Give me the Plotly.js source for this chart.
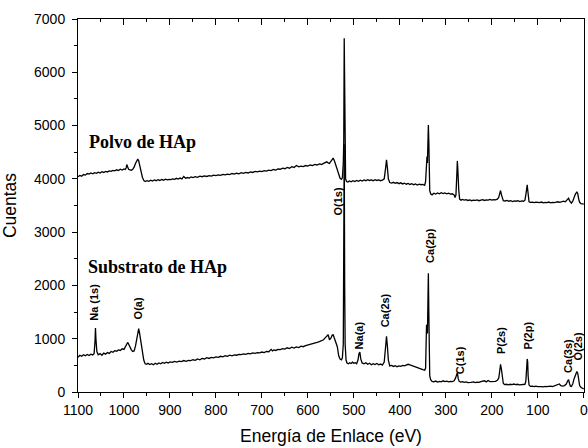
<!DOCTYPE html>
<html>
<head>
<meta charset="utf-8">
<script src="https://cdn.plot.ly/plotly-3.0.1.min.js"></script>
<style>html,body{margin:0;padding:0;background:#fff;}#chart{width:588px;height:448px;}</style>
</head>
<body>
<div id="chart"></div>
<script>
// Binding energy (eV) and counts, Substrato de HAp
const subEnergy = [1100,1096,1092,1088,1084,1080,1076,1072,1068,1065,1063,1062,1061,1059,1056,1052,1048,1044,1040,1036,1032,1028,1024,1020,1016,1012,1008,1004,1000,997,994,992,990,987,984,981,978,975,972,970,968,966,963,960,957,954,951,948,944,940,936,932,928,924,920,916,912,908,904,900,895,890,885,880,875,870,865,860,855,850,845,840,835,830,825,820,815,810,805,800,795,790,785,780,775,770,765,760,755,750,745,740,735,730,725,720,715,710,705,700,695,690,685,680,677,674,670,665,660,655,650,645,640,635,630,625,620,615,610,605,600,595,590,585,580,575,570,566,562,559,556,553,550,547,545,542,539,536,533,530,527,525,523,522,521,520,519,517,515,512,509,506,503,500,497,494,491,489,487,485,482,478,474,470,466,462,458,454,450,446,442,438,434,431,429,427,425,422,418,414,410,406,402,398,394,390,386,382,378,374,370,366,362,358,354,350,346,344,342,341,340,339,338,337,336,335,333,330,326,322,318,314,310,306,302,298,294,290,286,282,279,277,275,273,271,268,264,260,256,252,248,245,240,236,232,228,224,220,216,212,208,204,200,196,192,188,185,183,181,179,177,175,172,168,164,160,156,152,148,144,140,136,132,128,126,124,123,122,121,119,116,112,108,104,100,96,92,88,84,80,76,72,68,64,60,56,53,50,46,42,38,35,33,31,29,27,24,21,18,15,13,11,9,6,3,0];
const subCounts = [650,690,670,700,680,705,685,710,695,720,950,1200,1000,760,700,720,690,730,710,740,725,760,745,775,765,790,780,810,800,840,880,930,900,840,790,760,770,860,1020,1150,1190,1100,920,740,600,530,520,540,515,530,510,540,520,545,530,555,540,560,545,565,555,575,560,580,570,590,575,595,590,605,595,620,605,630,620,645,630,650,640,660,650,670,660,680,670,690,680,695,690,705,700,715,705,725,715,735,725,740,735,750,740,760,755,800,770,790,780,800,795,815,805,830,815,840,825,845,835,860,850,870,880,890,900,920,930,945,960,980,1020,1060,1075,980,1010,1070,1075,1000,920,850,680,620,605,640,900,2500,4650,2000,900,600,545,530,550,535,560,540,550,530,600,720,750,620,545,530,550,520,540,510,530,515,535,510,525,505,560,850,1045,850,600,490,500,480,495,475,490,480,500,490,505,520,510,495,480,470,450,440,430,420,410,450,1250,1260,1100,1800,2230,1500,600,300,230,200,190,205,185,200,190,210,195,205,190,200,195,210,260,340,360,250,200,185,195,180,190,175,185,180,190,175,185,180,195,200,210,190,215,195,200,195,200,220,260,380,520,420,250,160,140,145,135,145,140,150,140,145,135,140,135,145,200,450,620,560,300,130,105,110,100,110,100,105,100,95,105,100,105,110,100,110,120,135,150,120,110,120,150,210,230,160,110,105,150,250,330,385,350,200,120,85,75,60];

// Binding energy (eV) and counts, Polvo de HAp
const polvoEnergy = [1100,1096,1092,1088,1084,1080,1076,1072,1068,1064,1060,1056,1052,1048,1044,1040,1036,1032,1028,1024,1020,1016,1012,1008,1004,1000,997,995,994,992,990,987,984,981,978,975,972,970,968,966,963,960,957,954,950,946,942,938,934,930,926,922,918,914,910,906,902,898,894,890,886,882,878,874,870,866,862,858,854,850,845,840,835,830,825,820,815,810,805,800,795,790,785,780,775,770,765,760,755,750,745,740,735,730,725,720,715,710,705,700,695,690,685,680,675,670,665,660,655,650,645,640,635,630,625,620,615,610,605,600,595,590,585,580,575,570,566,562,559,556,553,550,547,545,542,539,536,533,530,527,525,523,522,521,520,519,518,516,513,510,506,502,498,494,490,486,482,478,474,470,466,462,458,454,450,446,442,438,434,431,429,427,425,422,418,414,410,406,402,398,394,390,386,382,378,374,370,366,362,358,354,350,346,344,342,341,340,339,338,337,336,335,333,330,326,322,318,314,310,306,302,298,294,290,286,282,280,278,276,275,274,272,270,267,264,260,256,252,248,244,240,236,232,228,224,220,216,212,208,204,200,196,192,188,185,183,181,179,177,175,171,167,163,159,155,151,147,143,139,135,131,128,126,124,123,122,121,119,116,112,108,104,100,96,92,88,84,80,76,72,68,64,60,56,52,48,44,40,37,35,33,31,29,27,24,21,18,15,13,11,9,6,3,0];
const polvoCounts = [4040,4065,4050,4080,4070,4100,4090,4110,4095,4115,4105,4125,4110,4135,4120,4140,4130,4150,4140,4160,4150,4170,4155,4180,4165,4185,4175,4210,4270,4200,4180,4170,4160,4180,4220,4290,4340,4370,4340,4250,4130,4030,3970,3950,3965,3955,3975,3960,3980,3965,3985,3970,3990,3975,3995,3980,3990,3985,4000,3990,4010,3995,4015,4000,4045,4010,4025,4015,4035,4025,4040,4030,4050,4040,4055,4045,4060,4050,4070,4060,4075,4065,4085,4075,4090,4080,4100,4090,4105,4095,4115,4105,4120,4110,4130,4120,4140,4130,4145,4135,4155,4145,4165,4155,4175,4165,4185,4180,4200,4190,4215,4200,4230,4215,4250,4225,4240,4230,4250,4240,4260,4250,4270,4260,4280,4270,4290,4300,4320,4300,4290,4330,4380,4390,4330,4250,4150,4060,4010,3990,4020,4300,4700,6640,5200,4300,4000,3950,3940,3960,3945,3965,3950,3970,3955,3975,3960,3980,3965,3985,3970,3980,3965,3985,3970,3980,3965,3975,4000,4200,4356,4200,4000,3930,3920,3935,3915,3930,3910,3925,3905,3920,3900,3915,3895,3910,3890,3905,3885,3900,3890,3895,3880,3950,4400,4420,4300,4700,5010,4700,4000,3780,3720,3700,3730,3715,3735,3720,3740,3725,3735,3720,3730,3715,3720,3700,3650,3700,4100,4337,4200,3800,3620,3600,3615,3600,3610,3595,3605,3590,3600,3595,3605,3590,3600,3610,3595,3605,3600,3615,3600,3610,3605,3620,3650,3720,3781,3700,3610,3590,3585,3595,3580,3590,3575,3585,3580,3590,3575,3585,3580,3600,3700,3850,3887,3800,3650,3570,3560,3565,3555,3565,3560,3555,3565,3550,3560,3555,3565,3550,3560,3555,3565,3570,3560,3575,3580,3570,3600,3625,3638,3590,3550,3545,3580,3650,3720,3750,3720,3620,3560,3535,3530,3525];

const sampleNames = ["Polvo de HAp", "Substrato de HAp"];
const peakLabels = ["Na (1s)", "O(a)", "O(1s)", "Na(a)", "Ca(2s)", "Ca(2p)", "C(1s)", "P(2s)", "P(2p)", "Ca(3s)", "O(2s)"];
const peakLabelX = [1064, 970, 535, 489, 433, 335, 270, 180, 122, 36, 13];
const peakLabelY = [1300, 1320, 3270, 760, 1170, 2390, 290, 665, 755, 325, 550];

const lineStyle = {color: '#000', width: 1.3};
const traces = [
  {x: subEnergy, y: subCounts, type: 'scatter', mode: 'lines', line: lineStyle, hoverinfo: 'skip'},
  {x: polvoEnergy, y: polvoCounts, type: 'scatter', mode: 'lines', line: lineStyle, hoverinfo: 'skip'},
  {x: [], y: [], xaxis: 'x2', type: 'scatter', mode: 'lines', hoverinfo: 'skip'}
];

const annotations = [
  {x: 1081, y: 4700, xref: 'x', yref: 'y', text: '<b>' + sampleNames[0] + '</b>', showarrow: false, xanchor: 'left', yanchor: 'middle',
   font: {family: 'Liberation Serif, Times New Roman, serif', size: 18, color: '#000'}},
  {x: 1082, y: 2340, xref: 'x', yref: 'y', text: '<b>' + sampleNames[1] + '</b>', showarrow: false, xanchor: 'left', yanchor: 'middle',
   font: {family: 'Liberation Serif, Times New Roman, serif', size: 18, color: '#000'}}
];
peakLabels.forEach((t, i) => {
  annotations.push({x: peakLabelX[i], y: peakLabelY[i], xref: 'x', yref: 'y', text: '<b>' + t + '</b>', textangle: -90, showarrow: false,
    xanchor: 'center', yanchor: 'bottom', font: {family: 'Liberation Sans, Arial, sans-serif', size: 11, color: '#000'}});
});

const layout = {
  width: 588, height: 448,
  margin: {l: 78, r: 4, t: 19, b: 56},
  paper_bgcolor: '#fff', plot_bgcolor: '#fff',
  showlegend: false,
  font: {family: 'Liberation Sans, Arial, sans-serif', color: '#000'},
  xaxis: {
    range: [1100, -0.5], tickvals: [1100, 1000, 900, 800, 700, 600, 500, 400, 300, 200, 100, 0], showgrid: false, zeroline: false,
    showline: true, linecolor: '#000', linewidth: 1,
    ticks: 'outside', ticklen: 5, tickwidth: 1, tickcolor: '#000',
    minor: {dtick: 50, tick0: 0, ticks: 'outside', ticklen: 3, tickwidth: 1, tickcolor: '#000', showgrid: false},
    tickfont: {size: 14}, ticklabeloverflow: 'allow',
    title: {text: 'Energía de Enlace (eV)', font: {size: 17.5}, standoff: 12}
  },
  xaxis2: {
    overlaying: 'x', side: 'top', anchor: 'y', range: [1100, -0.5], dtick: 100, tick0: 0,
    showgrid: false, zeroline: false, showticklabels: false,
    showline: true, linecolor: '#000', linewidth: 1,
    ticks: 'inside', ticklen: 6, tickwidth: 1, tickcolor: '#000',
    minor: {dtick: 50, ticks: 'inside', ticklen: 3, tickwidth: 1, tickcolor: '#000', showgrid: false}
  },
  yaxis: {
    range: [0, 7000], dtick: 1000, showgrid: false, zeroline: false,
    showline: true, linecolor: '#000', linewidth: 1, mirror: true,
    ticks: 'outside', ticklen: 5, tickwidth: 1, tickcolor: '#000',
    minor: {dtick: 500, ticks: 'outside', ticklen: 3, tickwidth: 1, tickcolor: '#000', showgrid: false},
    tickfont: {size: 14}, ticklabelstandoff: 4,
    title: {text: 'Cuentas', font: {size: 17.5}, standoff: 13}
  },
  annotations: annotations
};

Plotly.newPlot('chart', traces, layout, {staticPlot: true, displayModeBar: false});
</script>
</body>
</html>
